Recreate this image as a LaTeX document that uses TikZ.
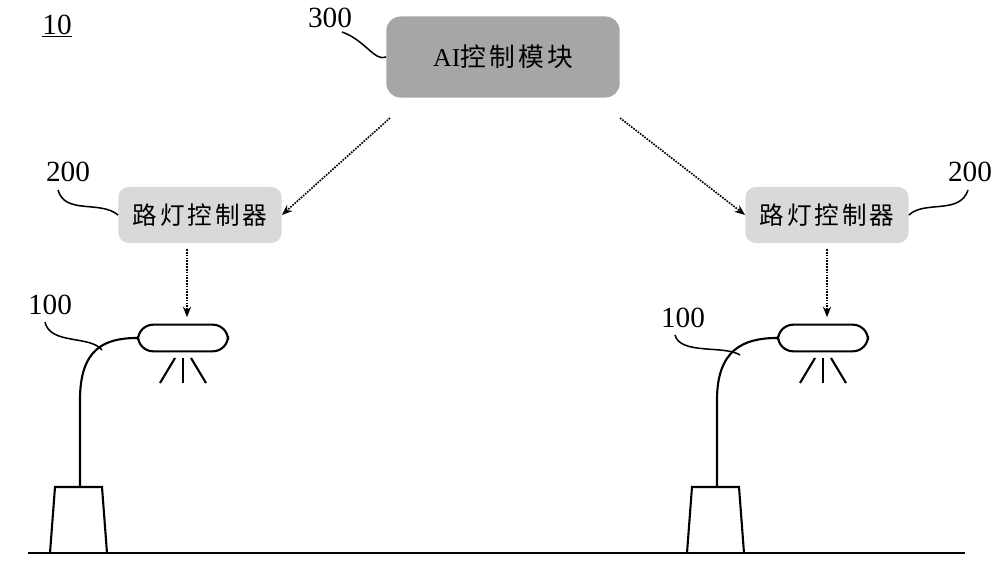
\documentclass[tikz,border=0pt]{standalone}
\usepackage{fontspec}
\setmainfont{Liberation Serif}
\newfontfamily\cjk[LetterSpace=12]{Noto Sans CJK SC}
\usetikzlibrary{calc}
\usetikzlibrary{arrows.meta}
\definecolor{boxgray}{RGB}{217,217,217}
\definecolor{aigray}{RGB}{166,166,166}
\tikzset{
  ctrlbox/.style={fill=boxgray, rounded corners=9pt, minimum width=4.9cm, minimum height=1.68cm, font=\cjk\fontsize{21}{24}\selectfont},
  aibox/.style={fill=aigray, rounded corners=12pt, minimum width=7cm, minimum height=2.43cm, font=\fontsize{22}{24}\selectfont},
  numlabel/.style={font=\fontsize{25}{27}\selectfont},
  sigarrow/.style={densely dotted, line width=1.4pt, -{Stealth[length=9pt,width=7pt]}},
  lampline/.style={line width=1.8pt},
  leader/.style={line width=1.3pt},
}
\begin{document}
\begin{tikzpicture}[x=0.03cm, y=-0.03cm]
  \useasboundingbox (0,0) rectangle (1000,565);
  % title number
  \node[numlabel] (fig) at (57,26) {\underline{10}};
  % AI module
  \node[aibox] (ai) at (503,57) {AI{\cjk 控制模块}};
  \node[numlabel] (n300) at (330,18) {300};
  \draw[leader] (342,32) .. controls (365,40) and (375,62) .. (ai.west);
  % controllers
  \node[ctrlbox] (ctrlL) at (200,215) {路灯控制器};
  \node[ctrlbox] (ctrlR) at (827,215) {路灯控制器};
  \node[numlabel] (n200L) at (68,172) {200};
  \node[numlabel] (n200R) at (970,172) {200};
  \draw[leader] (58,190) .. controls (65,215) and (100,200) .. (ctrlL.west);
  \draw[leader] (968,190) .. controls (960,215) and (925,200) .. (ctrlR.east);
  \coordinate (aiL) at (390,118);
  \coordinate (aiR) at (620,118);
  \draw[sigarrow] (aiL) -- (ctrlL.east);
  \draw[sigarrow] (aiR) -- (ctrlR.west);
  % lamps
  \foreach \name/\px/\lx in {L/80/183, R/717/823} {
    \node[draw, lampline, rounded corners=13pt, minimum width=2.7cm, minimum height=0.8cm] (lamp\name) at (\lx,338) {};
    \draw[lampline] (\px-30,553) -- (\px-25,487) -- (\px+22,487) -- (\px+27,553);
    \draw[lampline] (\px,487) -- (\px,400) .. controls (\px,350) and (\lx-80,338) .. (lamp\name.west);
    \draw[lampline] (\lx,358) -- (\lx,383);
    \draw[lampline] (\lx-8,358) -- (\lx-23,383);
    \draw[lampline] (\lx+8,358) -- (\lx+23,383);
  }
  \draw[sigarrow] (ctrlL.south) ++(-13,6) -- ++(0,68);
  \draw[sigarrow] (ctrlR.south) ++(0,6) -- ++(0,68);
  \node[numlabel] (n100L) at (50,305) {100};
  \node[numlabel] (n100R) at (683,318) {100};
  \draw[leader] (45,322) .. controls (50,345) and (90,335) .. (102,350);
  \draw[leader] (675,335) .. controls (680,355) and (725,345) .. (740,355);
  % ground
  \draw[lampline] (28,553) -- (965,553);
\end{tikzpicture}
\end{document}
